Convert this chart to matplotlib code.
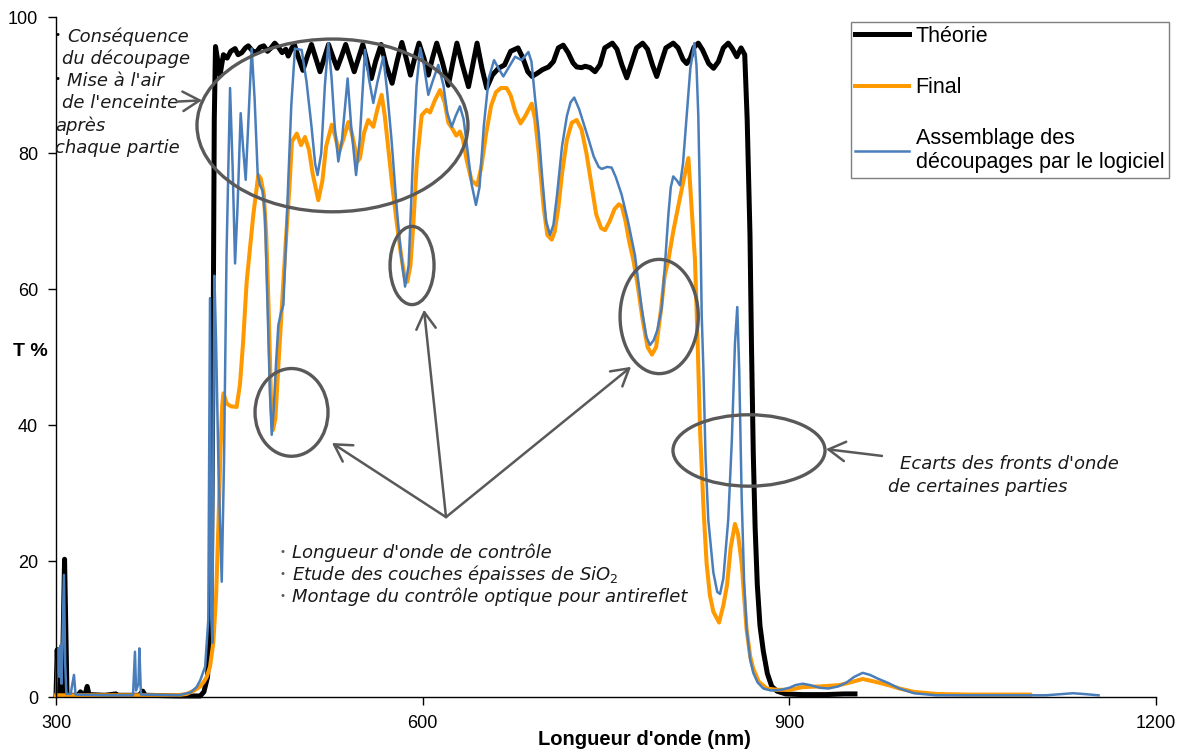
import matplotlib
matplotlib.use('Agg')
import matplotlib.pyplot as plt
from matplotlib.patches import Ellipse

plt.rcParams['font.family'] = ['Liberation Sans', 'DejaVu Sans']

# ---- data (wavelength nm, transmission %) ----
theorie_nm = [300, 301, 302, 305, 306, 307, 308, 309, 318, 320, 322, 324, 325.5, 327, 340, 349, 350,
              368, 371, 373, 400, 418, 421, 424, 427, 428.5, 429.5, 430.5, 432, 434.2, 436, 437, 440,
              443, 446.5, 449, 452, 455, 457.3, 461, 464, 467, 470, 473, 476, 479, 482, 485, 488, 490,
              493, 495, 498.5, 502, 505.5, 509, 512.5, 516, 519.5, 523, 526.5, 530, 533.5, 537, 540.5,
              544, 547.5, 551, 554.5, 558, 561.5, 566, 570, 575, 579, 583, 586.5, 590, 593.5, 597, 601,
              604.6, 608, 611.5, 616, 621, 624.5, 628, 632.5, 637.5, 641, 644.5, 648.5, 652.4, 657, 662,
              667, 672, 678, 682, 686, 689.5, 694, 698, 703, 707, 711, 715, 719, 723, 726, 730, 733, 737,
              741, 745, 749, 755.2, 759, 763, 767, 771, 775, 780, 784, 788, 791.5, 795, 799, 805, 809,
              813, 816, 819, 822, 825.5, 829, 834, 838, 842, 846, 850, 853, 857, 860.5, 863.5, 865.5,
              867.8, 869, 870.5, 872, 873.8, 876, 878.7, 882, 885.6, 890, 897, 910, 930, 945, 953.7]
theorie_t = [0.3, 7, 0.5, 0.5, 10, 20.3, 10, 0.3, 0.3, 0.8, 0.3, 0.5, 1.6, 0.4, 0.3, 0.5, 0.3,
             0.3, 0.9, 0.3, 0.2, 0.2, 0.8, 3, 15, 50, 85, 95.7, 94, 91.5, 93.5, 94.5, 94,
             95, 95.4, 94.5, 94.8, 95.5, 95.8, 95, 94.9, 95.6, 95.8, 95, 95.5, 96.2, 95.6, 94.8, 95.3, 94.3,
             95.5, 96, 94, 92.2, 94.2, 96, 94, 92, 94, 96, 94.2, 92.5, 94.2, 96, 94,
             92, 94, 96, 93.5, 91, 93.5, 96, 93, 90.3, 93.5, 96.3, 94, 91.5, 94, 96.2, 94,
             91.5, 94, 96.2, 93.5, 90, 93.2, 96.2, 93, 89.8, 93, 96.2, 92.5, 89.6, 91.5, 92.5,
             93, 95, 95.5, 94, 92, 91.3, 91.8, 92.3, 92.7, 93.5, 95.5, 95.9, 94.8, 93.3, 92.7, 92.6, 92.8, 92.6,
             92, 93, 95.5, 96.2, 95.3, 93, 91.1, 93.3, 95.5, 96.2, 95.3, 93, 91.3, 93.3, 95.5, 96.2, 95.5,
             93.8, 93.2, 94, 95.6, 96.2, 95.2, 93.2, 92.5, 93.5, 95.5, 96.2, 95.5, 94.2, 95.5, 94.5, 85,
             68, 52, 35.8, 25, 16.5, 10.5, 6.8, 3.5, 1.6, 0.9, 0.5, 0.4, 0.4, 0.5, 0.5]

final_nm = [300, 350, 400, 407, 413, 418, 421, 423.3, 426, 428.7, 431, 433, 434.5, 436, 437, 439.7,
            443, 447.8, 450.5, 453, 456, 459, 461.4, 465.5, 467.5, 470, 472, 474, 476, 477.5, 479.5,
            482, 485, 488, 491, 493, 497, 500.5, 503.7, 507, 510, 514.6, 518, 521, 525.6, 528.5, 531.5,
            535, 539.2, 542, 546.8, 548.7, 552, 555.5, 559.6, 563, 566.4, 569, 571.9, 575, 578.7, 582,
            585, 587.4, 590, 592.5, 595.1, 599.2, 603.3, 606, 610, 614.2, 618, 621, 624, 627.5, 630.5,
            633, 636, 640, 644.7, 648, 652, 656, 660, 664, 668.7, 672, 676, 680.1, 684, 689.2, 692, 695,
            699, 702, 705.6, 708, 711, 714, 718, 722, 726, 730, 734, 738, 742, 746, 749.2, 753, 757,
            760.5, 763, 766, 769, 772.4, 776, 780, 784, 787.6, 791, 795, 798, 801, 805, 810, 814, 817.4,
            820, 822.8, 825, 827, 830, 832.3, 835, 837.8, 842.5, 846, 849, 852, 855.5, 858, 861, 865,
            868, 870.5, 875, 881.5, 890, 900, 911, 925, 941, 950, 960, 970, 981, 990, 1002, 1020, 1047,
            1070, 1097]
final_t = [0.3, 0.3, 0.3, 0.5, 1.0, 1.6, 2.3, 3, 4.5, 8, 15, 26, 36, 43, 44.7, 43.2,
           42.8, 42.7, 46, 52, 61.1, 66.5, 70.9, 76.8, 76.3, 74, 68, 57, 43, 39.3, 41,
           49, 58, 67, 75, 81.7, 82.9, 81.2, 82.4, 80.5, 77, 73.1, 76, 81, 84.2, 82.5, 80.2,
           82, 84.6, 83, 78.8, 79.3, 83, 84.9, 83.9, 86.5, 88.6, 85.5, 80.7, 75.5, 69.9, 65.5,
           62, 61.1, 63.5, 70, 78.3, 85.6, 86.4, 86, 87.8, 89.3, 87.5, 84.5, 83.7, 82.6, 83.2,
           82, 79, 76, 75.3, 78, 83, 87, 89, 89.6, 89.6, 88.5, 86, 84.4, 85.5, 87.3, 85, 80,
           72, 68, 67.3, 68.5, 72, 77, 82, 84.5, 84.9, 83.5, 80, 75.5, 71, 69, 68.7, 70, 71.8,
           72.5, 72.2, 70, 67, 64.3, 60.5, 55.5, 51.5, 50.4, 51.5, 57, 62, 64.3, 68.5, 73, 76.5, 79.3,
           72, 64.3, 52, 39, 27, 19.7, 15, 12.6, 11, 13.5, 16.5, 22, 25.5, 24, 19.7, 10,
           6, 4.2, 2.3, 1.3, 1.1, 1.1, 1.5, 1.6, 1.8, 2.2, 2.7, 2.3, 1.8, 1.3, 0.8, 0.5, 0.4,
           0.4, 0.4]

assemblage_nm = [300, 301, 302, 302.8, 303.5, 304.5, 305.5, 306.5, 307.5, 308.5, 312, 314.7, 316, 340,
                 363, 364.6, 365.5, 367.5, 368.2, 369.5, 400, 410, 415, 418, 422, 424.6, 426, 427,
                 428, 428.8, 429.6, 431, 433, 435.6, 437.5, 439.5, 442.4, 444.5, 446.5, 448.5, 451.1,
                 453, 455.2, 457.5, 460.1, 462.5, 465, 466.9, 469, 471, 473, 475, 476.5, 478, 480, 481.9,
                 484, 486, 488, 490, 492.5, 495.5, 498, 501, 505, 509, 512, 514, 517, 520, 522.8, 525.5,
                 528, 531, 534, 538.6, 541.5, 545.5, 548.5, 552.8, 556, 559.6, 563, 567.8, 571, 574.5,
                 578.8, 582, 585.6, 588.5, 592.4, 595, 598, 601, 604.6, 608, 612.8, 617, 620, 623.8, 627,
                 630.5, 633.5, 637, 640, 643.6, 646.5, 650, 654, 658.4, 662, 666, 670, 675.6, 681, 686.5,
                 689, 692, 695, 698, 701, 704.2, 707, 710, 714, 718, 721, 724, 728, 731.5, 735.5, 740,
                 744, 746.5, 751, 754.6, 758, 762.8, 768, 773.7, 779.2, 783, 786, 789, 792, 795.5, 798,
                 801, 803, 805, 808, 810.5, 813, 816, 819, 822.3, 824, 825.5, 827, 828.3, 829.6, 831.5,
                 833.7, 837.8, 841, 843.3, 846, 850, 853, 855.5, 857.4, 859, 861, 863, 865.1, 868, 870.5,
                 874, 878.7, 885, 893, 900, 905, 911, 917, 925, 932, 940, 947, 953, 960, 966, 973, 981,
                 990, 1002, 1020, 1047, 1080, 1110, 1125, 1132, 1140, 1153]
assemblage_t = [0.5, 6, 7.2, 3, 7.6, 2, 10, 18, 5, 0.5, 0.5, 3.3, 0.4, 0.3,
                0.3, 6.7, 1, 2, 7.2, 0.4, 0.3, 0.7, 1.5, 2.5, 4.5, 11.4, 58.7, 12,
                8, 40, 62, 52, 33, 17, 35, 65, 89.6, 78, 63.8, 72, 85.9,
                81, 76.1, 85, 95.4, 88, 77, 75.3, 74.5, 70.9, 58, 45, 38.6, 42, 49, 54.7,
                56.5, 57.7, 66, 75.8, 87, 95.4, 95.3, 95.2, 90.5, 84, 78.5, 76.8, 80, 90, 96.2, 91,
                84, 78.8, 82, 91, 84, 76.8, 82, 95.2, 91, 87.4, 90.5, 94.2, 89, 82,
                71.9, 65.5, 60.4, 63.5, 80.7, 90, 95.5, 93, 88.6, 90.5, 93, 90, 86, 83.9, 85.5,
                86.9, 85, 80, 75.5, 72.4, 75, 84, 91, 93.7, 92.5, 91.3, 92.5, 94.2, 93.7, 94.9,
                93.5, 88, 83, 76, 70, 68, 69.5, 74, 81, 85.5, 87.5, 88.2, 86.5, 84.5, 82.2, 79.5,
                78, 77.7, 78, 77.9, 76.5, 73.9, 70, 65, 57.2, 53, 51.8, 52.5, 54, 57.2, 63,
                70.9, 75, 76.6, 76, 75.3, 78.5, 85.6, 92.5, 96.2, 93, 85.6, 72, 56.2, 48.7, 35,
                26.1, 18.4, 15.5, 15.2, 17.5, 26.1, 38, 52, 57.4, 48, 29.4, 17, 10, 5.5, 3.6,
                2.2, 1.3, 1.0, 1.1, 1.4, 1.8, 2.0, 1.8, 1.4, 1.3, 1.6, 2.2, 3.0, 3.6, 3.3, 2.7, 2.1,
                1.3, 0.6, 0.3, 0.3, 0.3, 0.3, 0.5, 0.6, 0.5, 0.3]

series_labels = ['Théorie', 'Final', 'Assemblage des\ndécoupages par le logiciel']
x_ticks = [300, 600, 900, 1200]
y_ticks = [0, 20, 40, 60, 80, 100]

grey = '#595959'
note_font = dict(family='DejaVu Sans', style='italic', size=13, color='#1a1a1a')

fig = plt.figure(figsize=(11.79, 7.49), dpi=100)
ax = fig.add_axes([0.0475, 0.069, 0.933, 0.9079])

ax.plot(theorie_nm, theorie_t, color='black', lw=3.6, label=series_labels[0], clip_on=False)
ax.plot(final_nm, final_t, color='#FF9900', lw=2.9, label=series_labels[1], clip_on=False)
ax.plot(assemblage_nm, assemblage_t, color='#4A7EBB', lw=1.8, label=series_labels[2], clip_on=False)

ax.set_xlim(300, 1200)
ax.set_ylim(0, 100)
ax.set_xticks(x_ticks)
ax.set_yticks(y_ticks)
ax.tick_params(direction='out', length=6, width=1, labelsize=13, pad=7, color='black')
for side in ['top', 'right']:
    ax.spines[side].set_visible(False)
for side in ['left', 'bottom']:
    ax.spines[side].set_linewidth(1.0)

ax.set_xlabel("Longueur d'onde (nm)", fontsize=14.5, fontweight='bold', va='center')
ax.xaxis.set_label_coords(0.535, -0.0625)
ax.set_ylabel('T %', fontsize=14, fontweight='bold', rotation=0, ha='center', va='center')
ax.yaxis.set_label_coords(-0.0236, 0.508)

# ellipses highlighting the zones
for cx, cy, w, h in [(526.2, 84.1, 221.7, 25.4), (492.7, 41.9, 59.7, 12.9),
                     (591.3, 63.5, 36.0, 11.5), (793.5, 56.0, 64.0, 16.8),
                     (867.0, 36.3, 124.4, 10.5)]:
    ax.add_patch(Ellipse((cx, cy), w, h, fill=False, edgecolor=grey, lw=2.4, zorder=5))

arrow = dict(arrowstyle='->,head_length=0.6,head_width=0.35', color=grey, lw=1.8,
             mutation_scale=20, shrinkA=0, shrinkB=0)
for tip in [(525.8, 37.4), (601.1, 57.0), (770.5, 48.6)]:
    ax.annotate('', xy=tip, xytext=(619.1, 26.5), arrowprops=arrow, zorder=5)
ax.annotate('', xy=(930.0, 36.5), xytext=(975.8, 35.5), arrowprops=arrow, zorder=5)
ax.annotate('', xy=(419.5, 87.8), xytext=(399.0, 87.6), arrowprops=arrow, zorder=5)

# notes, top left
for x, y, s in [(309.0, 96.4, 'Conséquence'), (304.9, 93.1, 'du découpage'),
                (309.0, 89.9, "Mise à l'air"), (304.9, 86.6, "de l'enceinte"),
                (299.2, 83.3, 'après'), (299.2, 80.0, 'chaque partie')]:
    ax.text(x, y, s, va='baseline', ha='left', **note_font)
for y in [96.4, 89.9]:
    ax.text(301.5, y + 0.6, '•', va='baseline', ha='center', fontsize=8, color='black')

# notes, bottom
for y, s in [(20.44, "Longueur d'onde de contrôle"),
             (17.25, 'Etude des couches épaisses de SiO$_2$'),
             (13.97, 'Montage du contrôle optique pour antireflet')]:
    ax.text(492.9, y, s, va='baseline', ha='left', **note_font)
    ax.text(485.5, y + 0.5, '•', va='baseline', ha='center', fontsize=8, color=grey)

ax.text(990.6, 33.6, "Ecarts des fronts d'onde", va='baseline', ha='left', **note_font)
ax.text(980.5, 30.2, 'de certaines parties', va='baseline', ha='left', **note_font)

leg = ax.legend(loc='upper left', bbox_to_anchor=(851 / 1179, 1 - 21.7 / 749),
                bbox_transform=fig.transFigure, fancybox=False, framealpha=1,
                edgecolor='#7f7f7f', borderpad=0.2, labelspacing=1.4, handlelength=2.5,
                handletextpad=0.3, borderaxespad=0, prop={'family': 'Liberation Sans', 'size': 15.5})
leg.get_frame().set_linewidth(1.0)

fig.savefig('out.png', dpi=100)
